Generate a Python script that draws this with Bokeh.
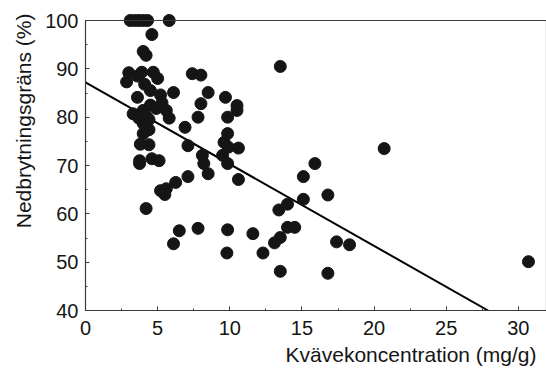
from bokeh.plotting import figure
from bokeh.models import Range1d, LinearAxis, SingleIntervalTicker, FixedTicker, Span, Title
from bokeh.embed import file_html
from bokeh.resources import INLINE

# ---- data ----
nitrogen = [3.1, 3.4, 3.7, 4.0, 4.3, 5.8, 4.6, 4.0, 4.2, 3.0,
            2.85, 3.6, 3.9, 4.7, 5.0, 4.1, 3.6, 5.2, 6.1, 4.5,
            3.3, 4.0, 4.9, 5.6, 5.3, 4.0, 4.4, 4.0, 4.4, 3.8,
            4.4, 3.75, 3.75, 4.6, 5.1, 4.5, 5.8, 3.7, 4.2, 5.2,
            5.6, 6.25, 7.1, 5.5, 4.2, 6.5, 6.1, 7.8, 6.9, 7.1,
            7.4, 8.0, 8.5, 8.0, 9.7, 10.5, 10.5, 9.85, 7.8, 9.85,
            9.6, 9.9, 10.6, 8.1, 8.2, 8.5, 9.5, 9.85, 10.6, 9.85,
            11.6, 9.8, 12.3, 13.5, 20.7, 15.9, 15.1, 16.8, 15.1, 14.0,
            13.4, 14.0, 14.5, 13.5, 13.1, 17.4, 18.3, 13.5, 16.8, 30.7]
breakdown = [100, 100, 100, 100, 100, 100, 97.1, 93.6, 92.8, 89.2,
             87.3, 88.5, 89.3, 89.3, 88.0, 86.8, 84.1, 84.6, 85.1, 85.5,
             80.7, 81.4, 81.8, 81.4, 83.0, 78.7, 77.4, 76.6, 79.5, 74.4,
             74.3, 71.0, 70.4, 71.4, 71.0, 82.5, 79.8, 79.8, 80.2, 64.8,
             65.2, 66.5, 67.7, 64.0, 61.1, 56.5, 53.8, 57.0, 77.9, 74.1,
             89.0, 88.7, 85.1, 82.8, 84.1, 82.4, 81.4, 80.0, 80.0, 76.6,
             74.8, 73.8, 73.6, 72.1, 70.4, 68.3, 72.1, 70.4, 67.1, 56.7,
             55.9, 51.9, 51.9, 90.5, 73.5, 70.4, 67.7, 63.9, 63.0, 62.0,
             60.8, 57.2, 57.2, 55.1, 54.0, 54.2, 53.6, 48.1, 47.7, 50.1]
fit_x = [0.0, 27.9]
fit_y = [87.2, 40.0]

x_label = "Kvävekoncentration (mg/g)"
y_label = "Nedbrytningsgräns (%)"

FONT = "Liberation Sans"
INK = "#151515"
AXIS = "#3a3a3a"

p = figure(width=546, height=374, output_backend="svg", toolbar_location=None,
           x_range=Range1d(0, 31.95), y_range=Range1d(40, 104.14),
           x_axis_type=None, y_axis_type=None,
           min_border_left=85, min_border_right=0, min_border_top=0,
           min_border_bottom=64)
p.outline_line_color = None
p.background_fill_color = "white"
p.border_fill_color = "white"


def style(ax):
    ax.axis_line_color = AXIS
    ax.axis_line_width = 1.2
    ax.major_tick_line_color = AXIS
    ax.minor_tick_line_color = AXIS
    ax.major_tick_in = 4
    ax.major_tick_out = 0
    ax.minor_tick_in = 2
    ax.minor_tick_out = 0
    ax.major_label_text_font = FONT
    ax.major_label_text_font_size = "20px"
    ax.major_label_text_color = INK


xaxis = LinearAxis(ticker=SingleIntervalTicker(interval=5, num_minor_ticks=2))
style(xaxis)
xaxis.major_label_standoff = 10
p.add_layout(xaxis, "below")

yaxis = LinearAxis(ticker=SingleIntervalTicker(interval=10, num_minor_ticks=2),
                   bounds=(40, 100))
style(yaxis)
yaxis.major_label_standoff = 7
p.add_layout(yaxis, "left")

raxis = LinearAxis(ticker=FixedTicker(ticks=[]), bounds=(40, 100))
style(raxis)
raxis.major_label_text_font_size = "0px"
raxis.major_label_standoff = 0
raxis.axis_label_standoff = 0
p.add_layout(raxis, "right")

p.add_layout(Span(location=100, dimension="width", line_color=AXIS, line_width=1.2))

p.line(fit_x, fit_y, line_color="black", line_width=2)
p.scatter(nitrogen, breakdown, size=12, fill_color=INK, line_color=INK)

# axis titles: x title flush right, y title near the top (as in the reference)
p.add_layout(Title(text=x_label, align="right", offset=10, standoff=7,
                   text_font=FONT, text_font_size="21px",
                   text_font_style="normal", text_color=INK), "below")
p.add_layout(Title(text=y_label, align="right", offset=13, standoff=16,
                   text_font=FONT, text_font_size="21px",
                   text_font_style="normal", text_color=INK), "left")

open("out.html", "w").write(file_html(p, INLINE))
